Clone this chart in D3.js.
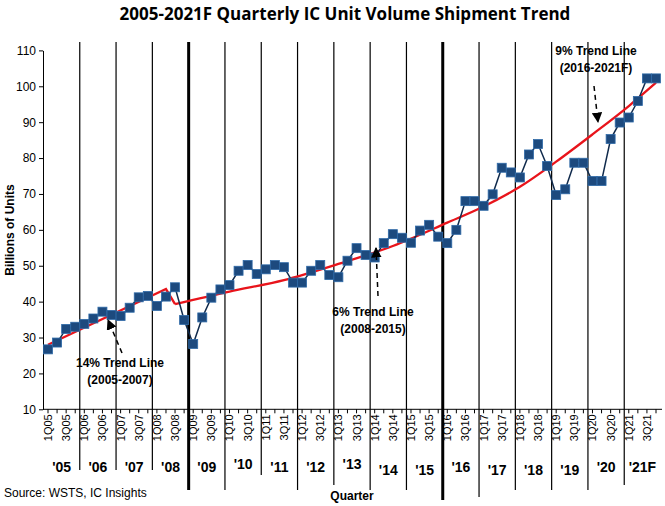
<!DOCTYPE html>
<html><head><meta charset="utf-8">
<script src="https://cdn.jsdelivr.net/npm/d3@7"></script>
<style>body{margin:0;background:#fff}svg{font-family:"Liberation Sans",Arial,sans-serif}</style>
</head><body><svg id="c" width="665" height="506"></svg>
<script>
const years = ["'05","'06","'07","'08","'09","'10","'11","'12","'13","'14","'15","'16","'17","'18","'19","'20","'21F"];
const quarters = [];
for (let y = 5; y <= 21; y++) for (let q = 1; q <= 4; q++) quarters.push(q + "Q" + String(y).padStart(2, "0"));
const units = [26.7,28.6,32.4,33.0, 33.8,35.3,37.2,36.3, 36.0,38.3,41.2,41.6, 38.8,41.4,44.0,34.9,
  28.2,35.6,41.1,43.4, 44.6,48.6,50.2,47.7, 49.0,50.2,49.6,45.3, 45.3,48.6,50.2,47.4,
  46.8,51.4,54.9,53.0, 52.3,56.3,58.8,57.8, 56.4,59.8,61.4,58.1, 56.3,60.0,68.0,68.0,
  66.7,69.9,77.3,76.0, 74.6,81.0,83.9,77.8, 69.7,71.3,78.7,78.7, 73.6,73.6,85.3,89.9,
  91.3,95.9,102.2,102.2];
// trend line knots: [quarter index, value]
const trend1 = [[0,28],[13,43.5],[14,39.3]];
const trend2 = [[14,39.3],[20,42.8],[26,46],[32,50.5],[38,55.5],[44,62],[48,66.5],[52,72],[56,79],[60,86.6],[64,94.5],[67,101]];
const yTicks = d3.range(10, 111, 10);
const dividerBottom = [470,470,470,490,490,475,490,485,490,490,500,497,490,490,490,485];

const svg = d3.select("#c");
const x = d3.scaleLinear().domain([0, 67]).range([48, 656]);
const y = d3.scaleLinear().domain([10, 110]).range([409.3, 50.4]);

svg.append("text").attr("x", 345).attr("y", 20).attr("text-anchor", "middle")
  .attr("font-size", 17).attr("font-weight", "bold").attr("font-family", "'Open Sans',sans-serif")
  .text("2005-2021F Quarterly IC Unit Volume Shipment Trend");

// y axis
svg.append("g").attr("transform", "translate(43,0)")
  .call(d3.axisLeft(y).tickValues(yTicks).tickSize(4).tickSizeOuter(0))
  .call(g => g.select(".domain").attr("stroke", "#000"))
  .call(g => g.selectAll("text").attr("font-size", 12).attr("fill", "#000"));
// x axis
svg.append("line").attr("x1", 43).attr("x2", 662).attr("y1", y(10)).attr("y2", y(10)).attr("stroke", "#000");
svg.append("g").selectAll("line").data(quarters).join("line")
  .attr("x1", (d, i) => x(i)).attr("x2", (d, i) => x(i)).attr("y1", y(10)).attr("y2", y(10) + 4).attr("stroke", "#000");
svg.append("g").selectAll("text").data(quarters.filter((d, i) => i % 2 === 0)).join("text")
  .attr("transform", (d, i) => `translate(${x(i * 2) + 4},${y(10) + 5}) rotate(-90)`)
  .attr("text-anchor", "end").attr("font-size", 11).text(d => d);

// year dividers
svg.append("g").selectAll("line").data(dividerBottom).join("line")
  .attr("x1", (d, i) => x(i * 4 + 3.5)).attr("x2", (d, i) => x(i * 4 + 3.5))
  .attr("y1", 42).attr("y2", d => d).attr("stroke", "#000")
  .attr("stroke-width", (d, i) => (i === 3 || i === 10) ? 3 : 1.2);
svg.append("g").selectAll("text").data(years).join("text")
  .attr("x", (d, i) => x(i * 4 + 1.5)).attr("y", (d, i) => 472 + [0,0,0,0,0,-3,0,0,-3,3,3,0,3,3,3,0,0][i])
  .attr("text-anchor", "middle").attr("font-size", 14).attr("font-weight", "bold")
  .attr("font-family", "'Liberation Sans',Arial,sans-serif").text(d => d);

// trend lines
const tl = d3.line().x(d => x(d[0])).y(d => y(d[1]));
svg.append("path").datum(trend1).attr("fill", "none").attr("stroke", "#e8141b").attr("stroke-width", 2.3).attr("d", tl);
svg.append("path").datum(trend2).attr("fill", "none").attr("stroke", "#e8141b").attr("stroke-width", 2.3)
  .attr("d", tl.curve(d3.curveMonotoneX));
// data
svg.append("path").datum(units).attr("fill", "none").attr("stroke", "#102a4c").attr("stroke-width", 1.5)
  .attr("d", d3.line().x((d, i) => x(i)).y(d => y(d)));
svg.append("g").selectAll("rect").data(units).join("rect")
  .attr("x", (d, i) => x(i) - 4.5).attr("y", d => y(d) - 4.5).attr("width", 9).attr("height", 9)
  .attr("fill", "#1d4a7e").attr("stroke", "#2f6aa8").attr("stroke-width", 0.8);

// annotations
const defs = svg.append("defs");
defs.append("marker").attr("id", "ah").attr("viewBox", "0 0 10 10").attr("refX", 9).attr("refY", 5)
  .attr("markerWidth", 7).attr("markerHeight", 7).attr("orient", "auto")
  .append("path").attr("d", "M0,0L10,5L0,10z").attr("fill", "#000");
const notes = [
  {t: ["14%  Trend Line", "(2005-2007)"], tx: 120, ty: 367, a: [122, 353, 108, 320]},
  {t: ["6% Trend Line", "(2008-2015)"], tx: 373, ty: 316, a: [378, 296, 376, 248]},
  {t: ["9% Trend Line", "(2016-2021F)"], tx: 596, ty: 55, a: [594, 86, 598, 122]}
];
notes.forEach(n => {
  const t = svg.append("text").attr("text-anchor", "middle").attr("font-size", 12).attr("font-weight", "bold");
  n.t.forEach((s, i) => t.append("tspan").attr("x", n.tx).attr("y", n.ty + i * 17).text(s));
  svg.append("line").attr("x1", n.a[0]).attr("y1", n.a[1]).attr("x2", n.a[2]).attr("y2", n.a[3])
    .attr("stroke", "#000").attr("stroke-width", 1.5).attr("stroke-dasharray", "5,4").attr("marker-end", "url(#ah)");
});

svg.append("text").attr("transform", "translate(14,230) rotate(-90)").attr("text-anchor", "middle")
  .attr("font-size", 12).attr("font-weight", "bold").text("Billions of Units");
svg.append("text").attr("x", 352).attr("y", 500).attr("text-anchor", "middle")
  .attr("font-size", 12).attr("font-weight", "bold").text("Quarter");
svg.append("text").attr("x", 4).attr("y", 497).attr("font-size", 12).text("Source: WSTS, IC Insights");
</script></body></html>
